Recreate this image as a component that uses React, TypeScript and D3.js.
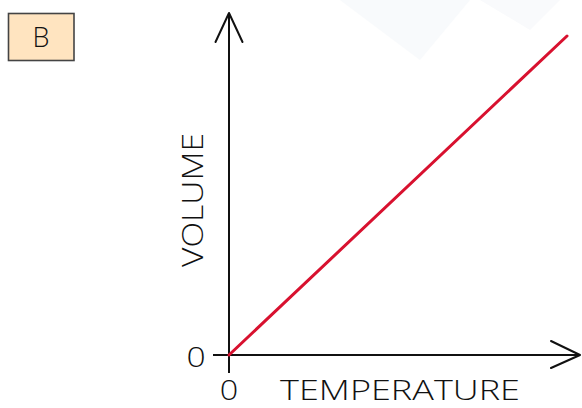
import React from "react";
import * as d3 from "d3";

const temperature = [0, 100];
const volume = [0, 100];
const xTickLabels = ["0"];
const yTickLabels = ["0"];
const panelLabel = "B";
const xTitle = "TEMPERATURE";
const yTitle = "VOLUME";

const W = 582;
const H = 408;

export default function App() {
  const x = d3.scaleLinear().domain([0, 100]).range([229, 567]);
  const y = d3.scaleLinear().domain([0, 100]).range([355, 36]);
  const line = d3
    .line<number>()
    .x((_, i) => x(temperature[i]))
    .y((d) => y(d));
  const ox = x(0);
  const oy = y(0);
  const font = "'Open Sans', 'Liberation Sans', Arial, sans-serif";
  return (
    <svg
      width={W}
      height={H}
      style={{ position: "absolute", left: 0, top: 0, background: "#fff" }}
    >
      {/* faint watermark */}
      <path d="M340,0 L420,60 L470,0 Z" fill="#f8fafc" />
      <path d="M480,0 L530,30 L560,0 Z" fill="#f9fafc" />
      {/* panel label */}
      <rect x={8.5} y={13.5} width={65.5} height={47} fill="#ffe4c0" stroke="#444" strokeWidth={1.6} />
      <text x={41} y={47} textAnchor="middle" fontFamily={font} fontWeight={300} fontSize={27} fill="#111">
        {panelLabel}
      </text>
      {/* y axis */}
      <line x1={ox} y1={oy + 18} x2={ox} y2={13} stroke="#111" strokeWidth={2} />
      <polyline
        points={`${ox - 13.5},42 ${ox},13 ${ox + 13.5},42`}
        fill="none"
        stroke="#111"
        strokeWidth={2}
        strokeLinecap="round"
        strokeLinejoin="round"
      />
      {/* x axis */}
      <line x1={ox - 16} y1={oy} x2={580} y2={oy} stroke="#111" strokeWidth={2} />
      <polyline
        points={`551,${oy - 14} 580,${oy} 551,${oy + 13}`}
        fill="none"
        stroke="#111"
        strokeWidth={2}
        strokeLinecap="round"
        strokeLinejoin="round"
      />
      {/* data line */}
      <path
        d={line(volume) || ""}
        fill="none"
        stroke="#d8112f"
        strokeWidth={3}
        strokeLinecap="round"
      />
      {/* tick labels */}
      {yTickLabels.map((t) => (
        <text key={"y" + t} x={196} y={oy + 12} textAnchor="middle" fontFamily={font} fontWeight={300} fontSize={28} fill="#111" transform={`translate(196,0) scale(1.2,1) translate(-196,0)`}>
          {t}
        </text>
      ))}
      {xTickLabels.map((t) => (
        <text key={"x" + t} x={ox} y={400} textAnchor="middle" fontFamily={font} fontWeight={300} fontSize={27} fill="#111" transform={`translate(${ox},0) scale(1.2,1) translate(${-ox},0)`}>
          {t}
        </text>
      ))}
      {/* axis titles */}
      <text
        x={280}
        y={400}
        fontFamily={font}
        fontWeight={300}
        fontSize={28}
        textLength={240}
        lengthAdjust="spacingAndGlyphs"
        fill="#111"
      >
        {xTitle}
      </text>
      <text
        transform={`translate(203,267) rotate(-90)`}
        fontFamily={font}
        fontWeight={300}
        fontSize={29}
        textLength={134}
        lengthAdjust="spacingAndGlyphs"
        fill="#111"
      >
        {yTitle}
      </text>
    </svg>
  );
}
